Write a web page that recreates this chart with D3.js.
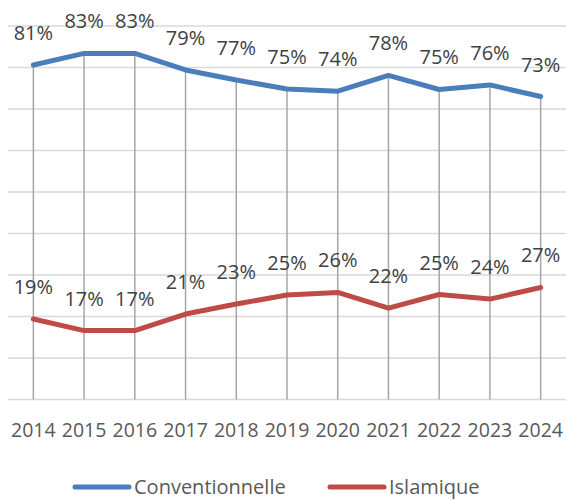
<!DOCTYPE html>
<meta charset="utf-8">
<script src="https://d3js.org/d3.v7.min.js"></script>
<style>
  body { margin: 0; background: #fff; }
  text { font-family: "Open Sans", sans-serif; }
</style>
<div id="chart"></div>
<script>

// data (share of total, in %)
var years = ["2014","2015","2016","2017","2018","2019","2020","2021","2022","2023","2024"];
var conventionnelle = [80.6, 83.4, 83.4, 79.4, 77.0, 74.8, 74.3, 78.1, 74.7, 75.8, 73.0];
var islamique = [19.4, 16.6, 16.6, 20.6, 23.0, 25.2, 25.8, 22.0, 25.3, 24.2, 27.0];
var labelsConv = ["81%","83%","83%","79%","77%","75%","74%","78%","75%","76%","73%"];
var labelsIsl = ["19%","17%","17%","21%","23%","25%","26%","22%","25%","24%","27%"];
var yTicks = [0, 10, 20, 30, 40, 50, 60, 70, 80, 90];

var width = 566, height = 500;
var margin = {top: 26, right: 0, bottom: 100.5, left: 8};

var svg = d3.select("#chart")
  .append("svg")
    .attr("width", width)
    .attr("height", height);

var x = d3.scaleBand()
  .domain(years)
  .range([margin.left, width - margin.right]);

var y = d3.scaleLinear()
  .domain([0, 90])
  .range([height - margin.bottom, margin.top]);

var cx = function(d) { return x(d) + x.bandwidth() / 2; };

// horizontal gridlines
svg.append("g")
  .selectAll("line")
  .data(yTicks)
  .enter().append("line")
    .attr("x1", margin.left)
    .attr("x2", width - margin.right)
    .attr("y1", function(d) { return y(d); })
    .attr("y2", function(d) { return y(d); })
    .attr("stroke", "#d9d9d9")
    .attr("stroke-width", 1.5);

// drop lines from the top series down to the axis
svg.append("g")
  .selectAll("line")
  .data(years)
  .enter().append("line")
    .attr("x1", cx)
    .attr("x2", cx)
    .attr("y1", function(d, i) { return y(Math.max(conventionnelle[i], islamique[i])); })
    .attr("y2", y(0))
    .attr("stroke", "#a6a6a6")
    .attr("stroke-width", 1.5);

// year labels
svg.append("g")
  .selectAll("text")
  .data(years)
  .enter().append("text")
    .attr("x", cx)
    .attr("y", 437)
    .attr("text-anchor", "middle")
    .attr("font-size", "19.5px")
    .attr("fill", "#595959")
    .text(function(d) { return d; });

var series = [
  {name: "Conventionnelle", values: conventionnelle, labels: labelsConv, color: "#4a7ebb"},
  {name: "Islamique", values: islamique, labels: labelsIsl, color: "#be4b48"}
];

var line = d3.line()
  .x(function(d, i) { return cx(years[i]); })
  .y(function(d) { return y(d); });

series.forEach(function(s) {
  svg.append("path")
    .datum(s.values)
    .attr("fill", "none")
    .attr("stroke", s.color)
    .attr("stroke-width", 5)
    .attr("stroke-linejoin", "round")
    .attr("stroke-linecap", "round")
    .attr("d", line);

  svg.append("g")
    .selectAll("text")
    .data(s.values)
    .enter().append("text")
      .attr("x", function(d, i) { return cx(years[i]); })
      .attr("y", function(d) { return y(d) - 25; })
      .attr("text-anchor", "middle")
      .attr("font-size", "20px")
      .attr("fill", "#404040")
      .text(function(d, i) { return s.labels[i]; });
});

// legend
var legend = [
  {name: "Conventionnelle", color: "#4a7ebb", x: 75},
  {name: "Islamique", color: "#be4b48", x: 330}
];
var lg = svg.append("g")
  .selectAll("g")
  .data(legend)
  .enter().append("g")
    .attr("transform", function(d) { return "translate(" + d.x + ",487)"; });
lg.append("line")
  .attr("x1", 0).attr("x2", 54)
  .attr("stroke", function(d) { return d.color; })
  .attr("stroke-width", 5)
  .attr("stroke-linecap", "round");
lg.append("text")
  .attr("x", 59)
  .attr("y", 7)
  .attr("font-size", "20px")
  .attr("fill", "#595959")
  .text(function(d) { return d.name; });

</script>
